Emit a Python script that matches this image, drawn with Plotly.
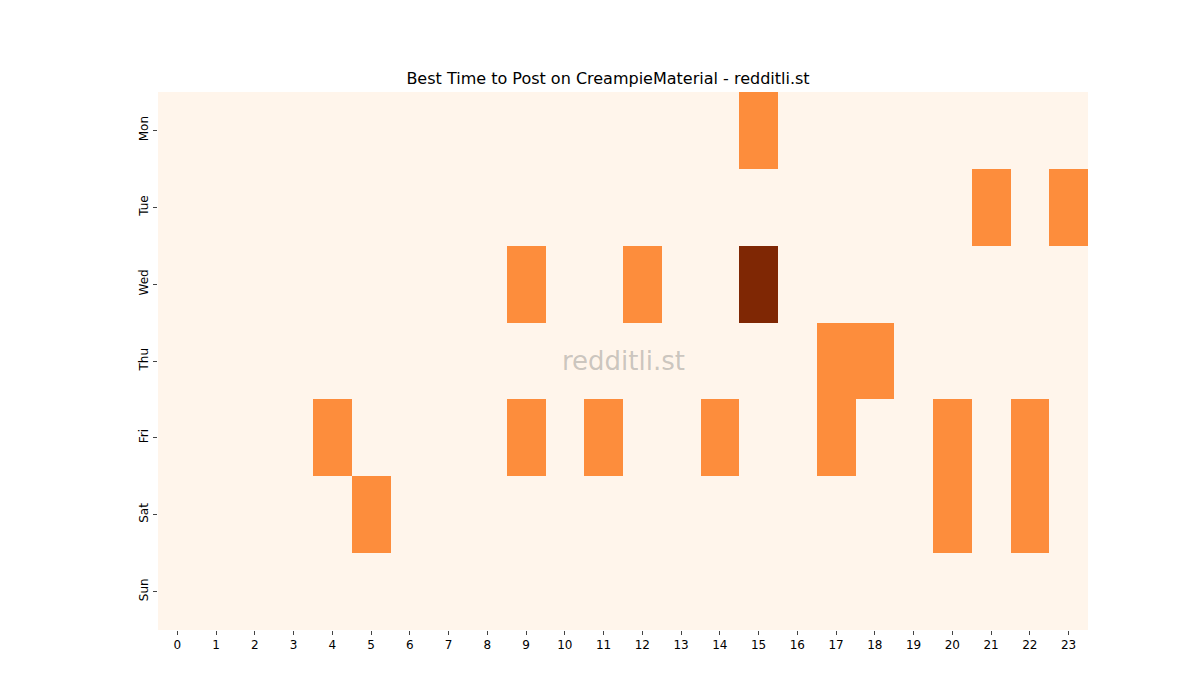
import plotly.graph_objects as go

days = ["Mon", "Tue", "Wed", "Thu", "Fri", "Sat", "Sun"]
hours = list(range(24))
active = {
    "Mon": {15: 1},
    "Tue": {21: 1, 23: 1},
    "Wed": {9: 1, 12: 1, 15: 2},
    "Thu": {17: 1, 18: 1},
    "Fri": {4: 1, 9: 1, 11: 1, 14: 1, 17: 1, 20: 1, 22: 1},
    "Sat": {5: 1, 20: 1, 22: 1},
    "Sun": {},
}
z = [[active[d].get(h, 0) for h in hours] for d in days]

fig = go.Figure(go.Heatmap(
    z=z, x=hours, y=days,
    colorscale=[[0, "#fff5eb"], [0.5, "#fd8d3c"], [1, "#7f2704"]],
    zmin=0, zmax=2, showscale=False, xgap=0, ygap=0,
))
fig.update_layout(
    width=1200, height=700, plot_bgcolor="white", paper_bgcolor="white",
    margin=dict(l=150, r=120, t=84, b=78),
    title=dict(text="Best Time to Post on CreampieMaterial - redditli.st", x=0.5, y=0.9,
               xanchor="center", yanchor="middle",
               font=dict(family="DejaVu Sans", size=16, color="black")),
    font=dict(family="DejaVu Sans", size=12, color="black"),
    annotations=[dict(text="redditli.st", x=0.5, y=0.5, xref="paper", yref="paper",
                      showarrow=False, font=dict(size=26, color="rgba(120,120,120,0.4)"))],
)
fig.update_xaxes(tickmode="array", tickvals=hours, ticks="outside", ticklen=4,
                 showgrid=False, zeroline=False, showline=False)
fig.update_yaxes(autorange="reversed", ticks="outside", ticklen=4, tickangle=-90,
                 showgrid=False, zeroline=False, showline=False)
fig.write_html("out.html")
